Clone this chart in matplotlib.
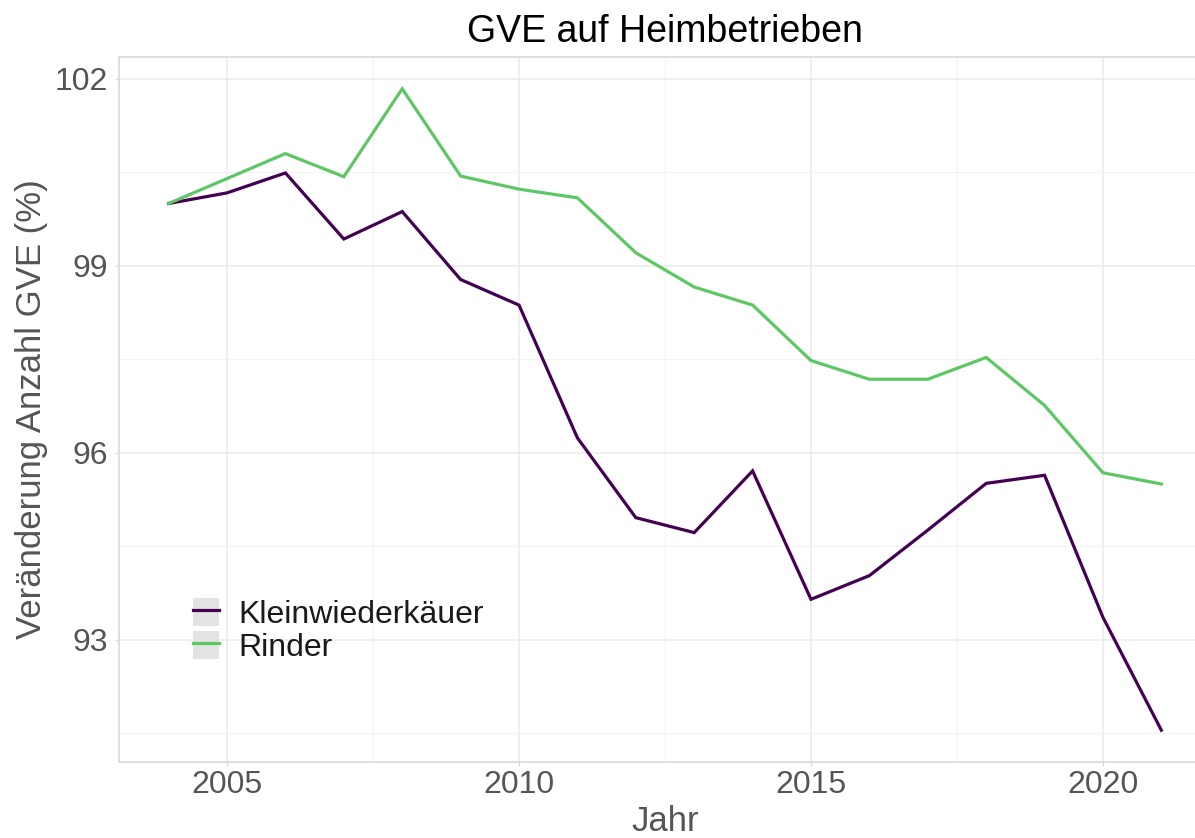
import matplotlib
matplotlib.use("Agg")
import matplotlib.pyplot as plt
from matplotlib.patches import Patch
from matplotlib.lines import Line2D
from matplotlib.legend_handler import HandlerTuple
from matplotlib.ticker import MultipleLocator

plt.rcParams['font.family'] = ['Liberation Sans', 'DejaVu Sans']

# data
jahre = list(range(2004, 2022))
klein = [100.0, 100.17, 100.49, 99.43, 99.87, 98.78, 98.37, 96.24, 94.96,
         94.72, 95.71, 93.65, 94.03, 94.76, 95.51, 95.64, 93.36, 91.55]
rinder = [100.0, 100.40, 100.80, 100.43, 101.84, 100.44, 100.23, 100.09, 99.21,
          98.66, 98.37, 97.48, 97.18, 97.18, 97.53, 96.76, 95.68, 95.50]
serien = ["Kleinwiederkäuer", "Rinder"]
farben = ["#440154", "#5DC863"]

W, H = 1195, 838
fig = plt.figure(figsize=(W / 100, H / 100), dpi=100)
# panel runs past the right edge, like the cropped original
ax = fig.add_axes([119 / W, (H - 762) / H, (1211 - 119) / W, (762 - 57) / H])

for werte, name, col in zip([klein, rinder], serien, farben):
    ax.plot(jahre, werte, color=col, lw=2.3, label=name, solid_joinstyle='miter')

ax.set_xlim(2003.15, 2021.85)
ax.set_ylim(91.04, 102.35)
ax.xaxis.set_major_locator(MultipleLocator(5))
ax.xaxis.set_minor_locator(MultipleLocator(2.5))
ax.yaxis.set_major_locator(MultipleLocator(3))
ax.yaxis.set_minor_locator(MultipleLocator(1.5))

ax.grid(which='major', color='#ebebeb', lw=1.1)
ax.grid(which='minor', color='#f3f3f3', lw=0.8)
ax.set_axisbelow(True)
for s in ax.spines.values():
    s.set_color('#dcdcdc')
    s.set_linewidth(1.3)
ax.spines['right'].set_visible(False)

ax.tick_params(which='both', colors='#dcdcdc', labelcolor='#555555',
               labelsize=23, length=3, width=1)
ax.tick_params(which='minor', length=0)
ax.tick_params(axis='x', pad=3)
ax.tick_params(axis='y', pad=5)

ax.set_xlabel("Jahr", fontsize=25, color='#555555', labelpad=3)
ax.set_ylabel("Veränderung Anzahl GVE (%)", fontsize=25, color='#555555', labelpad=5)
ax.set_title("GVE auf Heimbetrieben", fontsize=27, color='black', pad=11)

handles = [(Patch(facecolor='#e3e3e3', edgecolor='none'), Line2D([], [], color=c, lw=2.3))
           for c in farben]
leg = ax.legend(handles, serien, handler_map={tuple: HandlerTuple(ndivide=1)},
                loc='upper left', bbox_to_anchor=(0.0678, 0.2326), frameon=False,
                fontsize=23, handlelength=0.81, handleheight=0.97,
                handletextpad=0.62, labelspacing=0.02, borderaxespad=0, borderpad=0)
for t in leg.get_texts():
    t.set_color('#1a1a1a')

fig.savefig("out.png", dpi=100)
